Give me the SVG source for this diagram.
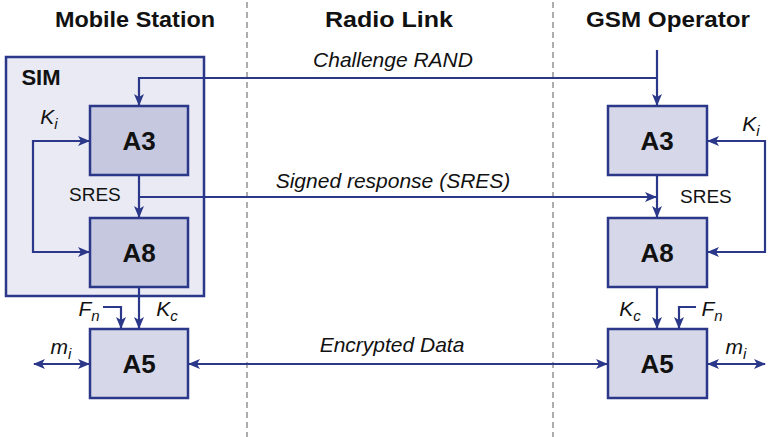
<svg xmlns="http://www.w3.org/2000/svg" width="771" height="437" viewBox="0 0 771 437">
<style>
.hdr{font-family:"Liberation Sans",sans-serif;font-weight:bold;font-size:22px;fill:#111;text-anchor:middle}
.blk{font-family:"Liberation Sans",sans-serif;font-weight:bold;font-size:26px;fill:#111;text-anchor:middle}
.lbl{font-family:"Liberation Sans",sans-serif;font-style:italic;font-size:21px;fill:#111;text-anchor:middle}
.sub{font-size:15px}
.txt{font-family:"Liberation Sans",sans-serif;font-size:19px;fill:#111}
.box{stroke:#2b3789;stroke-width:2.5}
.dk{fill:#c5c8de}
.lt{fill:#d6d8e9}
.con{fill:none;stroke:#2b3789;stroke-width:2.2}
.arr{marker-end:url(#ah)}
.dbl{marker-end:url(#ah);marker-start:url(#ah)}
.sep{stroke:#9a9a9a;stroke-width:1.6;stroke-dasharray:6,4}
</style>
<defs>
<marker id="ah" markerUnits="userSpaceOnUse" viewBox="0 0 12 10" refX="11" refY="5" markerWidth="12" markerHeight="10" orient="auto-start-reverse">
<path d="M0,0 L12,5 L0,10 L3,5 z" fill="#2b3789"/>
</marker>
</defs>
<rect width="771" height="437" fill="#fff"/>
<g id="separators">
<line class="sep" x1="247" y1="2" x2="247" y2="437"/>
<line class="sep" x1="553" y1="2" x2="553" y2="437"/>
</g>
<g id="headers">
<text class="hdr" x="135" y="27" textLength="160" lengthAdjust="spacingAndGlyphs">Mobile Station</text>
<text class="hdr" x="389" y="27" textLength="128" lengthAdjust="spacingAndGlyphs">Radio Link</text>
<text class="hdr" x="668" y="27" textLength="164" lengthAdjust="spacingAndGlyphs">GSM Operator</text>
</g>
<g id="sim">
<rect x="6" y="57" width="198" height="239" fill="#e9eaf4" class="box"/>
<text class="blk" x="41" y="85" style="font-size:22px">SIM</text>
</g>
<g id="connectors">
<line class="con arr" x1="657" y1="50" x2="657" y2="105"/>
<polyline class="con arr" points="657,78 139,78 139,105"/>
<line class="con arr" x1="139" y1="175" x2="139" y2="217"/>
<polyline class="con arr" points="139,197 656,197"/>
<line class="con arr" x1="657" y1="175" x2="657" y2="217"/>
<polyline class="con dbl" points="89,141 33,141 33,252 89,252"/>
<polyline class="con dbl" points="708,141 765,141 765,252 708,252"/>
<line class="con arr" x1="139" y1="287" x2="139" y2="328"/>
<polyline class="con arr" points="103,307 121,307 121,328"/>
<line class="con arr" x1="657" y1="287" x2="657" y2="328"/>
<polyline class="con arr" points="696,307 679,307 679,328"/>
<line class="con dbl" x1="34" y1="364" x2="89" y2="364"/>
<line class="con dbl" x1="708" y1="364" x2="765" y2="364"/>
<line class="con dbl" x1="189" y1="364" x2="607" y2="364"/>
</g>
<g id="ms-a3"><rect x="90" y="106" width="98" height="69" class="box dk"/><text class="blk" x="139" y="150">A3</text></g>
<g id="ms-a8"><rect x="90" y="218" width="98" height="69" class="box dk"/><text class="blk" x="139" y="262">A8</text></g>
<g id="ms-a5"><rect x="90" y="329" width="98" height="69" class="box lt"/><text class="blk" x="139" y="373">A5</text></g>
<g id="op-a3"><rect x="608" y="106" width="99" height="69" class="box lt"/><text class="blk" x="657" y="150">A3</text></g>
<g id="op-a8"><rect x="608" y="218" width="99" height="69" class="box lt"/><text class="blk" x="657" y="262">A8</text></g>
<g id="op-a5"><rect x="608" y="329" width="99" height="69" class="box lt"/><text class="blk" x="657" y="373">A5</text></g>
<g id="labels">
<text class="lbl" x="393" y="67">Challenge RAND</text>
<text class="lbl" x="393" y="188">Signed response (SRES)</text>
<text class="lbl" x="392" y="352">Encrypted Data</text>
<text class="txt" x="69" y="201">SRES</text>
<text class="txt" x="680" y="203">SRES</text>
<text class="lbl" x="49" y="124">K<tspan class="sub" dy="5">i</tspan></text>
<text class="lbl" x="751" y="131">K<tspan class="sub" dy="5">i</tspan></text>
<text class="lbl" x="89" y="316">F<tspan class="sub" dy="5">n</tspan></text>
<text class="lbl" x="167" y="316">K<tspan class="sub" dy="5">c</tspan></text>
<text class="lbl" x="630" y="316">K<tspan class="sub" dy="5">c</tspan></text>
<text class="lbl" x="712" y="316">F<tspan class="sub" dy="5">n</tspan></text>
<text class="lbl" x="61" y="354">m<tspan class="sub" dy="5">i</tspan></text>
<text class="lbl" x="736" y="354">m<tspan class="sub" dy="5">i</tspan></text>
</g>
</svg>
